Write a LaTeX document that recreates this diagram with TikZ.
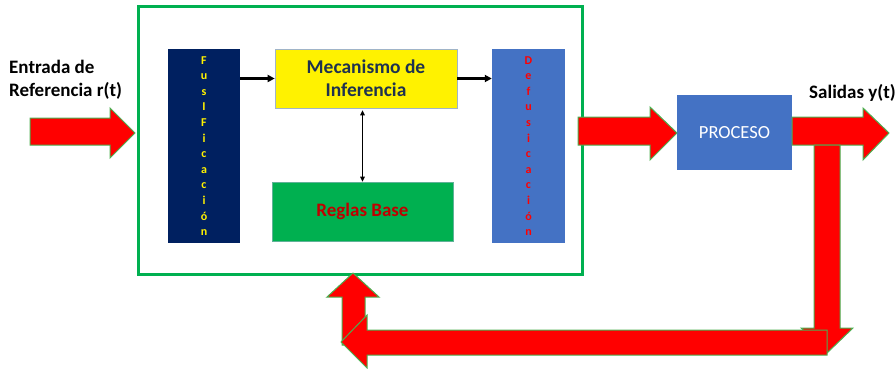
\documentclass[tikz,border=0pt]{standalone}
\usepackage{fontspec}
\setmainfont{Carlito}
\usetikzlibrary{arrows.meta}
\definecolor{frgreen}{RGB}{0,176,80}
\definecolor{olgreen}{RGB}{76,175,80}
\definecolor{navy}{RGB}{0,32,96}
\definecolor{pblue}{RGB}{68,114,196}
\definecolor{mectext}{RGB}{30,50,80}
\definecolor{regtext}{RGB}{192,0,0}
\definecolor{mecborder}{RGB}{160,180,200}
\tikzset{
  blockarrow/.style={fill=red, draw=olgreen, line width=1pt, line join=miter},
  vbox/.style={inner sep=0pt, align=center, font=\fontsize{12}{15.6}\selectfont\bfseries},
  lbl/.style={inner sep=0pt, align=left, font=\fontsize{19}{23}\selectfont\bfseries},
  conn/.style={line width=2.5pt, -{Triangle[length=7pt,width=7pt]}},
}
\begin{document}
\begin{tikzpicture}[x=1pt,y=-1pt]
\useasboundingbox (0,0) rectangle (895,369);
% frame
\node[draw=frgreen, line width=3pt, minimum width=444pt, minimum height=267pt, inner sep=0pt] (frame) at (360,140.5) {};
% inner boxes
\node[fill=navy, vbox, text=yellow, minimum width=72pt, minimum height=194pt] (fus) at (204,146) {F\\u\\s\\I\\F\\i\\c\\a\\c\\i\\ó\\n};
\node[fill=pblue, vbox, text=red, minimum width=73pt, minimum height=194pt] (def) at (528.5,146) {D\\e\\f\\u\\s\\i\\c\\a\\c\\i\\ó\\n};
\node[fill=yellow, draw=mecborder, line width=0.6pt, minimum width=182pt, minimum height=59pt, inner sep=0pt, align=center, text=mectext, font=\fontsize{19.5}{23}\selectfont\bfseries] (mec) at (366,78.5) {Mecanismo de\\Inferencia};
\node[fill=frgreen, draw=mecborder!60!frgreen, line width=0.6pt, minimum width=181pt, minimum height=59pt, inner sep=0pt, text=regtext, font=\fontsize{19}{22}\selectfont\bfseries] (reg) at (362.5,211.5) {Reglas Base};
\node[fill=pblue, minimum width=115pt, minimum height=75pt, inner sep=0pt, text=white, font=\fontsize{18.5}{20}\selectfont] (proc) at (734.5,132.5) {PROCESO};
% labels
\node[lbl, anchor=north west] (lin) at (9,60) {Entrada de\\Referencia r(t)};
\node[lbl, anchor=north west] (lout) at (809,84) {Salidas y(t)};
% connectors
\draw[conn] (fus.east |- mec.west) -- (mec.west);
\draw[conn] (mec.east) -- (mec.east -| def.west);
\draw[line width=1pt, {Triangle[length=5pt,width=4.5pt]}-{Triangle[length=5pt,width=4.5pt]}] (mec.south -| reg.north) ++(0,2) -- (reg.north);
% block arrows
\draw[blockarrow] (30,118) -- (110,118) -- (110,108) -- (135,133) -- (110,158) -- (110,145) -- (30,145) -- cycle;
\draw[blockarrow] (578,117) -- (650,117) -- (650,107) -- (677,133) -- (650,160) -- (650,145) -- (578,145) -- cycle;
\draw[blockarrow] (792,117) -- (863,117) -- (863,108) -- (889,133) -- (863,160) -- (863,145) -- (792,145) -- cycle;
% feedback
\draw[blockarrow] (814,145) -- (840,145) -- (840,328) -- (853,328) -- (827,353) -- (801,328) -- (814,328) -- cycle;
\draw[blockarrow] (342,345) -- (342,297) -- (327,297) -- (353,273) -- (379,297) -- (365,297) -- (365,345) -- cycle;
\draw[blockarrow] (827,330) -- (827,355) -- (367,355) -- (367,368) -- (341,342) -- (367,315) -- (367,330) -- cycle;
\end{tikzpicture}
\end{document}
